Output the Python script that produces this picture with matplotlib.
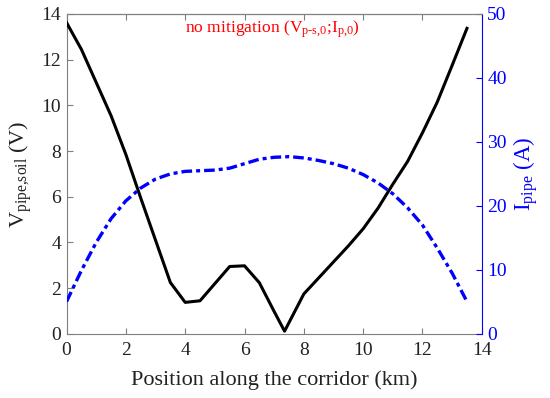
import numpy as np
import matplotlib
matplotlib.use("Agg")
from matplotlib import pyplot as plt

plt.rcParams['font.family'] = ['Liberation Serif', 'DejaVu Serif']
plt.rcParams['mathtext.fontset'] = 'custom'
plt.rcParams['mathtext.rm'] = 'Liberation Serif'
plt.rcParams['mathtext.it'] = 'Liberation Serif:italic'

# pipe-soil voltage (V)
x_v = [0, 0.5, 1.0, 1.5, 2.0, 2.5, 3.0, 3.5, 4.0, 4.5, 5.0, 5.5, 6.0, 6.5,
       7.0, 7.35, 8.0, 8.5, 9.0, 9.5, 10.0, 10.5, 11.0, 11.5, 12.0, 12.5,
       13.0, 13.5]
v_pipe = [13.62, 12.45, 11.0, 9.55, 7.85, 5.95, 4.1, 2.25, 1.38, 1.45, 2.2,
          2.95, 2.98, 2.24, 0.98, 0.12, 1.75, 2.45, 3.15, 3.85, 4.6, 5.5,
          6.55, 7.55, 8.8, 10.15, 11.75, 13.37]

# pipe current (A)
x_i = [0, 0.5, 1.0, 1.5, 2.0, 2.5, 3.0, 3.5, 4.0, 4.5, 5.0, 5.5, 6.0, 6.5,
       7.0, 7.5, 8.0, 8.5, 9.0, 9.5, 10.0, 10.5, 11.0, 11.5, 12.0, 12.5,
       13.0, 13.5]
i_pipe = [5.05, 9.9, 14.3, 18.0, 20.8, 22.8, 24.2, 25.0, 25.4, 25.5, 25.6,
          25.9, 26.6, 27.3, 27.6, 27.7, 27.5, 27.1, 26.6, 25.9, 24.9, 23.6,
          21.9, 19.7, 17.0, 13.4, 9.5, 5.05]

gray = '#7f7f7f'
blue = '#0000ff'
dark = '#222222'

fig = plt.figure(figsize=(5.5, 3.98), dpi=100)
ax = fig.add_axes([0.121, 0.161, 0.755, 0.804])
ax2 = ax.twinx()

ax.plot(x_v, v_pipe, color='black', lw=2.2, zorder=3)
ax2.plot(x_i, i_pipe, color=blue, lw=2.4, linestyle=(0, (3.2, 1.2, 1.2, 1.2)))

ax.set_xlim(0, 14)
ax.set_ylim(0, 14)
ax2.set_ylim(0, 50)
ax.set_xticks(np.arange(0, 15, 2))
ax.set_yticks(np.arange(0, 15, 2))
ax2.set_yticks(np.arange(0, 51, 10))

for s in ['left', 'bottom', 'top']:
    ax.spines[s].set_color(gray)
    ax2.spines[s].set_color(gray)
ax.spines['right'].set_visible(False)
ax2.spines['right'].set_color(blue)
ax2.spines['left'].set_visible(False)
ax2.spines['bottom'].set_visible(False)

ax.tick_params(axis='x', direction='in', top=True, length=4, color=gray,
               labelsize=14, labelcolor=dark, pad=6)
ax.tick_params(axis='y', direction='in', length=4, color=gray,
               labelsize=14, labelcolor=dark, pad=4)
ax2.tick_params(axis='y', direction='in', length=4, colors=blue,
                labelsize=14, pad=4)

ax.set_xlabel('Position along the corridor (km)', fontsize=16,
              color=dark, labelpad=8)
ax.set_ylabel(r'V$_{\mathrm{pipe{,}soil}}$ (V)', fontsize=16,
              color=dark, labelpad=5)
ax2.set_ylabel(r'I$_{\mathrm{pipe}}$ (A)', fontsize=16.5, color=blue,
               labelpad=3)

ax.text(0.495, 0.985,
        r'no mitigation (V$_{\mathrm{p\text{-}s{,}0}}$;I$_{\mathrm{p{,}0}}$)',
        transform=ax.transAxes, ha='center', va='top', color='red',
        fontsize=12.6)

fig.savefig('out.png', dpi=100)
